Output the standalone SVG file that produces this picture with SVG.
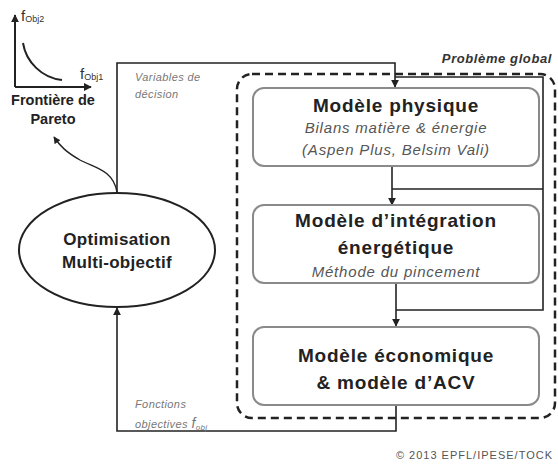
<svg xmlns="http://www.w3.org/2000/svg" width="558" height="466" viewBox="0 0 558 466">
<style>
.box{fill:#fff;stroke:#8a8a8a;stroke-width:2}
.ln{fill:none;stroke:#222;stroke-width:1.6}
.b{font-family:"Liberation Sans",Arial,sans-serif;font-weight:bold;fill:#222;text-anchor:middle}
.bb{font-size:19px;letter-spacing:0.8px}
.i{font-family:"Liberation Sans",Arial,sans-serif;font-style:italic;fill:#555;text-anchor:middle;font-size:15px;letter-spacing:0.8px}
.s{font-family:"Liberation Sans",Arial,sans-serif;font-style:italic;fill:#777;font-size:11px;letter-spacing:0.4px}
</style>
<defs>
<marker id="ah" viewBox="0 0 10 10" refX="9" refY="5" markerWidth="5" markerHeight="5" orient="auto">
<path d="M0,0 L10,5 L0,10 z" fill="#222"/>
</marker>
<marker id="ah2" viewBox="0 0 10 10" refX="9" refY="5" markerWidth="4" markerHeight="4" orient="auto">
<path d="M0,0 L10,5 L0,10 z" fill="#222"/>
</marker>
</defs>
<rect width="558" height="466" fill="#fff"/>

<g id="pareto">
<path d="M15,87 V15" stroke="#222" stroke-width="2" fill="none" marker-end="url(#ah2)"/>
<path d="M15,87 H91" stroke="#222" stroke-width="2" fill="none" marker-end="url(#ah2)"/>
<path d="M23,43 C26,62 42,78 62,80" stroke="#222" stroke-width="2" fill="none"/>
<text x="21" y="21" font-family="Liberation Sans,Arial,sans-serif" font-size="15" fill="#333">f<tspan font-size="9" dy="1">Obj2</tspan></text>
<text x="80" y="79" font-family="Liberation Sans,Arial,sans-serif" font-size="15" fill="#333">f<tspan font-size="9" dy="1">Obj1</tspan></text>
<text class="b" x="53" y="105" font-size="14.5">Frontière de</text>
<text class="b" x="53" y="124" font-size="14.5">Pareto</text>
</g>

<g id="connectors">
<path class="ln" d="M117,193 V63 H395 V87" marker-end="url(#ah)"/>
<path class="ln" d="M395,77 H543 V310 H396"/>
<path class="ln" d="M392,189 H543"/>
<path class="ln" d="M392,166 V205" marker-end="url(#ah)"/>
<path class="ln" d="M396,283 V326" marker-end="url(#ah)"/>
<path class="ln" d="M396,405 V431 H117 V308" marker-end="url(#ah)"/>
<path d="M117,192 C113,170 95,168 80,160 C66,152 60,146 54,137" stroke="#222" stroke-width="1.4" fill="none" marker-end="url(#ah)"/>
</g>

<g id="global">
<rect x="237" y="74" width="318" height="344" rx="15" fill="none" stroke="#222" stroke-width="2.5" stroke-dasharray="8,5"/>
<text x="552" y="63" font-family="Liberation Sans,Arial,sans-serif" font-size="13" font-style="italic" font-weight="bold" fill="#333" text-anchor="end" letter-spacing="0.6">Problème global</text>
</g>

<g id="optim">
<ellipse cx="117" cy="250" rx="98" ry="57" fill="#fff" stroke="#222" stroke-width="2"/>
<text class="b" x="117" y="245" font-size="17" letter-spacing="0.3">Optimisation</text>
<text class="b" x="117" y="268" font-size="17" letter-spacing="0.3">Multi-objectif</text>
</g>

<g id="labels">
<text class="s" x="135" y="81">Variables de</text>
<text class="s" x="135" y="98">décision</text>
<text class="s" x="135" y="408" font-size="10.5">Fonctions</text>
<text class="s" x="135" y="428" font-size="10.5">objectives <tspan font-size="14">f</tspan><tspan font-size="8" dy="2">obj</tspan></text>
</g>

<g id="box1">
<rect class="box" x="253" y="88" width="286" height="78" rx="11"/>
<text class="b bb" x="396" y="112">Modèle physique</text>
<text class="i" x="396" y="133">Bilans matière &amp; énergie</text>
<text class="i" x="396" y="155">(Aspen Plus, Belsim Vali)</text>
</g>

<g id="box2">
<rect class="box" x="253" y="205" width="286" height="78" rx="11"/>
<text class="b bb" x="396" y="227">Modèle d’intégration</text>
<text class="b bb" x="396" y="254">énergétique</text>
<text class="i" x="396" y="277">Méthode du pincement</text>
</g>

<g id="box3">
<rect class="box" x="253" y="327" width="286" height="78" rx="11"/>
<text class="b bb" x="396" y="362">Modèle économique</text>
<text class="b bb" x="396" y="389">&amp; modèle d’ACV</text>
</g>

<text x="553" y="459" font-family="Liberation Sans,Arial,sans-serif" font-size="11" fill="#555" text-anchor="end" letter-spacing="1">© 2013 EPFL/IPESE/TOCK</text>
</svg>
